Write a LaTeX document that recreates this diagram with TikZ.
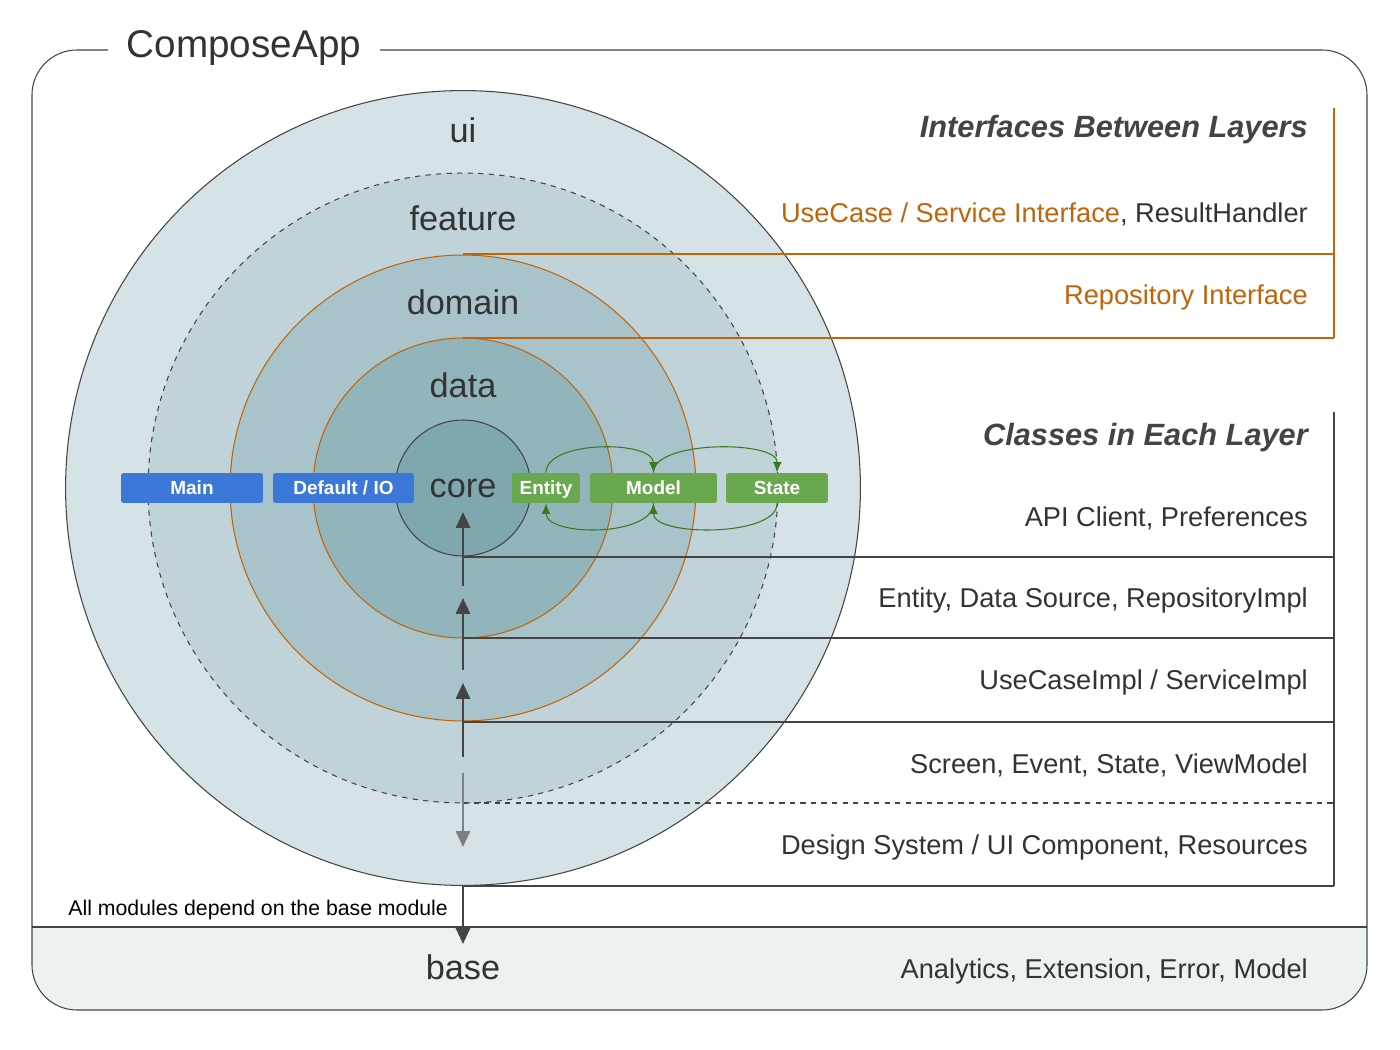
\documentclass[tikz,border=0pt]{standalone}
\usepackage{fontspec}
\setmainfont{Liberation Sans}
\usetikzlibrary{arrows.meta}
\definecolor{cui}{HTML}{D5E2E6}
\definecolor{cfe}{HTML}{BFD3D8}
\definecolor{cdo}{HTML}{A8C4CA}
\definecolor{cda}{HTML}{92B5BB}
\definecolor{cco}{HTML}{7FA8AE}
\definecolor{org}{HTML}{C0650A}
\definecolor{txt}{HTML}{333333}
\definecolor{dk}{HTML}{444444}
\definecolor{blu}{HTML}{3C78D8}
\definecolor{grn}{HTML}{6AA84F}
\definecolor{dgr}{HTML}{3A7A1E}
\tikzset{
 lbl/.style={font=\fontsize{19.5}{22}\selectfont, text=txt},
 rt/.style={anchor=east, font=\fontsize{15.5}{17}\selectfont, text=txt},
 hd/.style={anchor=east, font=\fontsize{17.5}{20}\selectfont\bfseries\itshape, text=dk},
 box/.style={rounded corners=1.5pt, minimum height=0.6cm, inner sep=0pt, text height=1.6ex, text depth=0.3ex, text=white, font=\fontsize{10.8}{12}\selectfont\bfseries},
 gl/.style={draw=dk, line width=0.6pt},
 ol/.style={draw=org, line width=0.6pt},
 garr/.style={draw=dgr, line width=0.6pt, -{Latex[length=6pt,width=5pt]}},
 carr/.style={draw=dk, line width=1.4pt, -{Triangle[length=9pt,width=8pt]}},
}
\begin{document}
\begin{tikzpicture}[x=0.02cm,y=-0.02cm]
\useasboundingbox[fill=white] (0,0) rectangle (1400,1050);
% frame
\begin{scope}
\clip[rounded corners=0.9cm] (32,50) rectangle (1367,1010);
\fill[black!3!cui!40] (32,927) rectangle (1367,1010);
\end{scope}
\draw[gl] (32,927) -- (1367,927);
\draw[gl, rounded corners=0.9cm] (108,50) -- (32,50) -- (32,1010) -- (1367,1010) -- (1367,50) -- (380,50);
\node[font=\fontsize{22}{25}\selectfont, text=txt] (title) at (244,48) {ComposeApp};
% right lines
\draw[ol] (1334,338) -- (1334,108);
\draw[gl] (1334,412) -- (1334,886);
% circles
\fill[cui] (463,488) circle[radius=7.95cm];
\draw[gl] (463,488) circle[radius=7.95cm];
\fill[cfe] (463,488) circle[radius=6.3cm];
\draw[gl, dashed] (463,488) circle[radius=6.3cm];
\fill[cdo] (463,488) circle[radius=4.66cm];
\draw[ol] (463,488) circle[radius=4.66cm];
\fill[cda] (463,488) circle[radius=3cm];
\draw[ol] (463,488) circle[radius=3cm];
\fill[cco] (463,488) circle[radius=1.36cm];
\draw[gl] (463,488) circle[radius=1.36cm];
\draw[gl] (463,886) -- (1334,886);
\draw[gl] (463,557) -- (1334,557);
\draw[gl] (463,638) -- (1334,638);
\draw[gl] (463,722) -- (1334,722);
\draw[gl, dashed] (463,803) -- (1334,803);
\draw[ol] (463,254) -- (1334,254);
\draw[ol] (463,338) -- (1334,338);
% circle labels
\node[lbl] (lui) at (463,130) {ui};
\node[lbl] (lfe) at (463,218) {feature};
\node[lbl] (ldo) at (463,302) {domain};
\node[lbl] (lda) at (463,385) {data};
\node[lbl] (lco) at (463,488) {core};
\node[lbl] (lba) at (463,967) {base};
% boxes
\node[box, fill=blu, minimum width=2.84cm] (main) at (192,488) {Main};
\node[box, fill=blu, minimum width=2.82cm] (dio) at (343.5,488) {Default / IO};
\node[box, fill=grn, minimum width=1.36cm] (ent) at (546,488) {Entity};
\node[box, fill=grn, minimum width=2.54cm] (mod) at (653.5,488) {Model};
\node[box, fill=grn, minimum width=2.04cm] (sta) at (777,488) {State};
\draw[garr] (ent.north) .. controls (546,440) and (653,440) .. (mod.north);
\draw[garr] (mod.north) .. controls (653,440) and (778,440) .. (sta.north);
\draw[garr] (mod.south) .. controls (653,537) and (546,537) .. (ent.south);
\draw[garr] (sta.south) .. controls (778,537) and (653,537) .. (mod.south);
% central arrows
\coordinate (a1) at (463,586); \coordinate (b1) at (463,512);
\coordinate (a2) at (463,670); \coordinate (b2) at (463,598);
\coordinate (a3) at (463,757); \coordinate (b3) at (463,683);
\coordinate (a4) at (463,773); \coordinate (b4) at (463,847);
\coordinate (a5) at (463,886); \coordinate (b5) at (463,944);
\draw[carr] (a1) -- (b1);
\draw[carr] (a2) -- (b2);
\draw[carr] (a3) -- (b3);
\draw[carr, draw=gray, line width=1.1pt] (a4) -- (b4);
\draw[carr] (a5) -- (b5);
\node[anchor=east, font=\fontsize{12.1}{14}\selectfont, text=black] (dep) at (454,910) {All modules depend on the base module};
% right texts
\node[hd] (h1) at (1314,130) {Interfaces Between Layers};
\node[rt] (t1) at (1314,214) {\textcolor{org}{UseCase / Service Interface}, ResultHandler};
\node[rt, text=org] (t2) at (1314,297) {Repository Interface};
\node[hd] (h2) at (1314,438) {Classes in Each Layer};
\node[rt] (t3) at (1314,518) {API Client, Preferences};
\node[rt] (t4) at (1314,600) {Entity, Data Source, RepositoryImpl};
\node[rt] (t5) at (1314,682) {UseCaseImpl / ServiceImpl};
\node[rt] (t6) at (1314,765) {Screen, Event, State, ViewModel};
\node[rt] (t7) at (1314,847) {Design System / UI Component, Resources};
\node[rt] (t8) at (1314,971) {Analytics, Extension, Error, Model};
\end{tikzpicture}
\end{document}
